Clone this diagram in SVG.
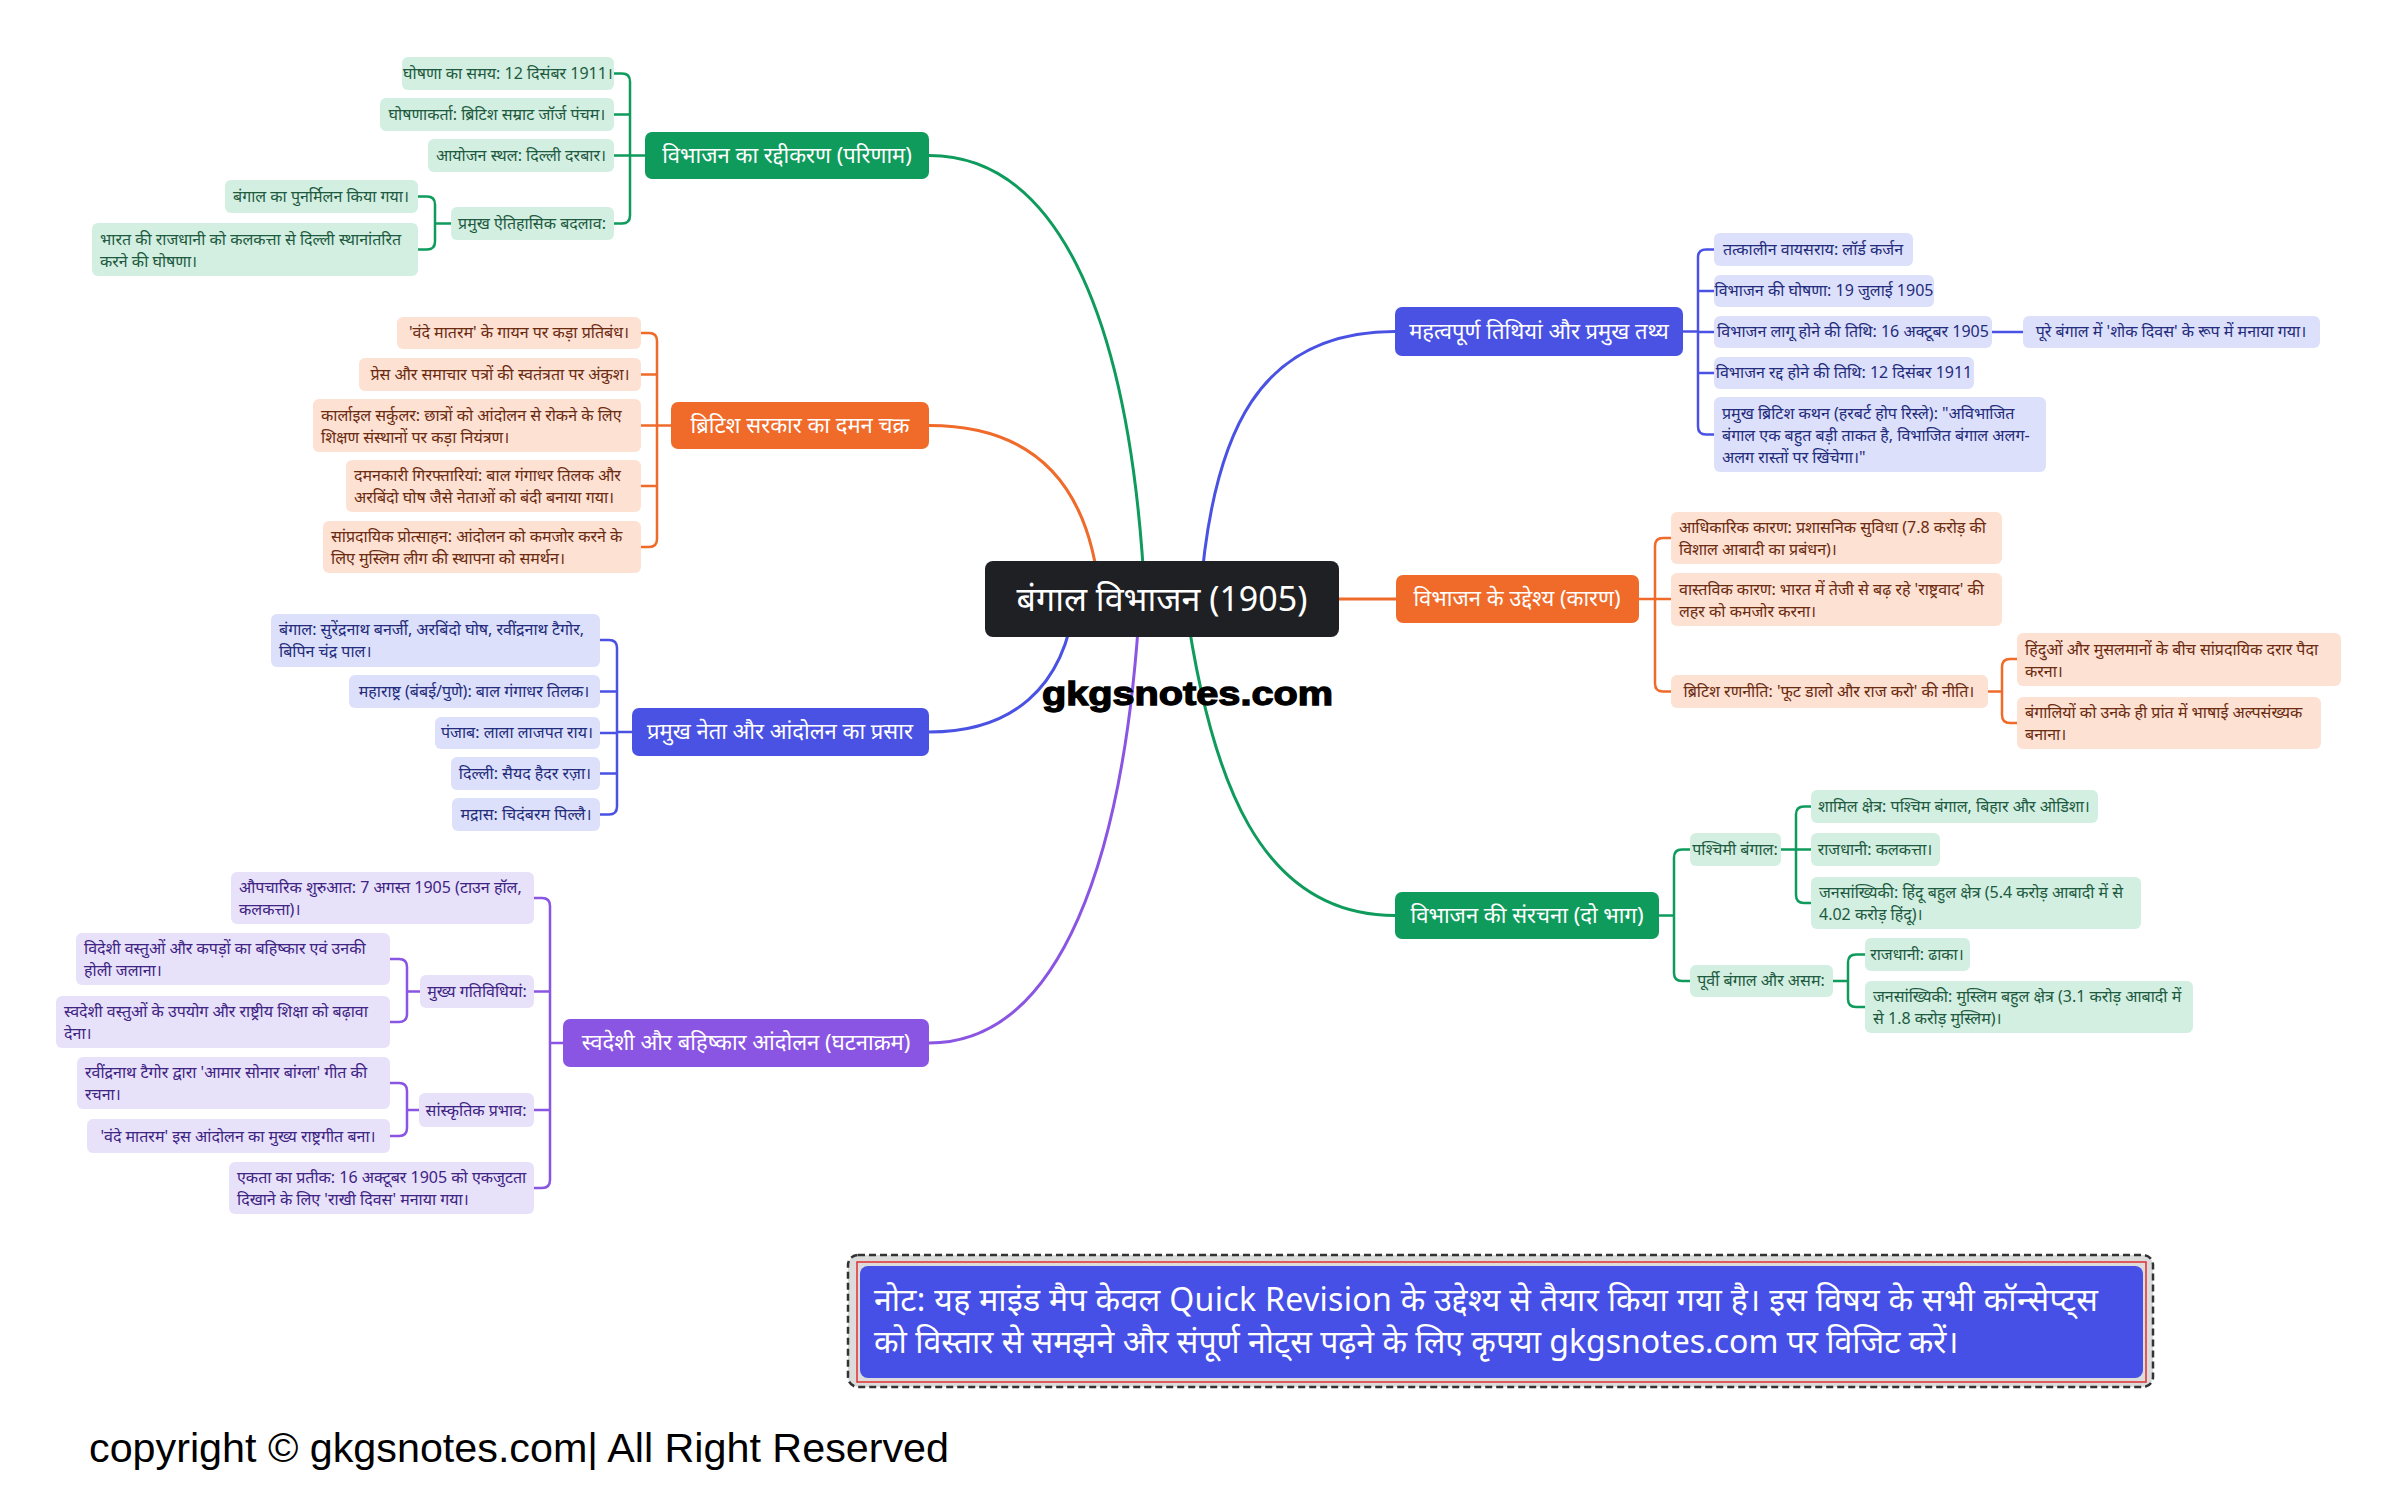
<svg xmlns="http://www.w3.org/2000/svg" width="2400" height="1499" viewBox="0 0 2400 1499">
<style>
.t,.mn text,.lf text{font-family:"Noto Sans","Noto Sans Devanagari",sans-serif}
.mn text{fill:#fff;font-size:22px;text-anchor:middle}
.lf text{font-size:16px}
.lf .c{text-anchor:middle}
.g .lf rect{fill:#d2efe1}.g .lf text{fill:#1e5a3f}.g .mn rect{fill:#0f9b5c}
.o .lf rect{fill:#fde1d3}.o .lf text{fill:#6b2b10}.o .mn rect{fill:#f06a2a}
.b .lf rect{fill:#dde0fa}.b .lf text{fill:#232c7c}.b .mn rect{fill:#4a52e3}
.p .lf rect{fill:#e8e1fa}.p .lf text{fill:#3e2483}.p .mn rect{fill:#8a55e2}
.cn path{fill:none;stroke-linecap:round}
.main{stroke-width:3}
.br{stroke-width:2.5}
.lat{font-family:"Liberation Sans",Arial,sans-serif}
</style>
<rect width="2400" height="1499" fill="#fff"/>

<g id="connectors" class="cn">
  <path class="main" stroke="#0f9b5c" d="M929,155.5 C1050,155.5 1130,300 1145,599"/>
  <path class="main" stroke="#f06a2a" d="M929,425.5 C1030,425.5 1090,480 1100,599"/>
  <path class="main" stroke="#4a52e3" d="M929,732 C1010,732 1065,690 1075,599"/>
  <path class="main" stroke="#8a55e2" d="M929,1043 C1060,1043 1125,860 1140,599"/>
  <path class="main" stroke="#4a52e3" d="M1395,331.5 C1260,331.5 1212,430 1200,599"/>
  <path class="main" stroke="#f06a2a" d="M1339,599 H1396"/>
  <path class="main" stroke="#0f9b5c" d="M1395,915.5 C1260,915.5 1210,780 1185,599"/>

  <path class="br" stroke="#0f9b5c" d="M645,155.5 H630 M614,73.5 H622 Q630,73.5 630,81.5 V215.5 Q630,223.5 622,223.5 H614 M614,114.5 H630 M614,155.5 H630"/>
  <path class="br" stroke="#0f9b5c" d="M451,223.5 H435 M418,196.5 H427 Q435,196.5 435,204.5 V241.5 Q435,249.5 427,249.5 H418"/>
  <path class="br" stroke="#f06a2a" d="M671,425.5 H657 M641,333 H649 Q657,333 657,341 V539 Q657,547 649,547 H641 M641,374.5 H657 M641,425.5 H657 M641,486 H657"/>
  <path class="br" stroke="#4a52e3" d="M632,732 H617 M600,640 H609 Q617,640 617,648 V806.5 Q617,814.5 609,814.5 H600 M600,691.5 H617 M600,733 H617 M600,773.5 H617"/>
  <path class="br" stroke="#8a55e2" d="M563,1043 H550 M534,898 H542 Q550,898 550,906 V1180 Q550,1188 542,1188 H534 M534,991.5 H550 M534,1110 H550"/>
  <path class="br" stroke="#8a55e2" d="M420,991.5 H407 M390,959 H399 Q407,959 407,967 V1014 Q407,1022 399,1022 H390"/>
  <path class="br" stroke="#8a55e2" d="M419,1110 H407 M390,1083 H399 Q407,1083 407,1091 V1128 Q407,1136 399,1136 H390"/>
  <path class="br" stroke="#4a52e3" d="M1683,331.5 H1698 M1714,249.5 H1706 Q1698,249.5 1698,257.5 V426.5 Q1698,434.5 1706,434.5 H1714 M1714,291 H1698 M1714,332 H1698 M1714,373 H1698"/>
  <path class="br" stroke="#4a52e3" d="M1992,332 H2023"/>
  <path class="br" stroke="#f06a2a" d="M1639,599 H1655 M1671,538 H1663 Q1655,538 1655,546 V683.5 Q1655,691.5 1663,691.5 H1671 M1671,599 H1655"/>
  <path class="br" stroke="#f06a2a" d="M1988,691.5 H2002 M2017,659 H2010 Q2002,659 2002,667 V715 Q2002,723 2010,723 H2017"/>
  <path class="br" stroke="#0f9b5c" d="M1659,915.5 H1674 M1690,849.5 H1682 Q1674,849.5 1674,857.5 V973 Q1674,981 1682,981 H1690"/>
  <path class="br" stroke="#0f9b5c" d="M1781,849.5 H1796 M1811,806.5 H1804 Q1796,806.5 1796,814.5 V895 Q1796,903 1804,903 H1811 M1811,849.5 H1796"/>
  <path class="br" stroke="#0f9b5c" d="M1833,981 H1848 M1865,954.5 H1856 Q1848,954.5 1848,962.5 V999 Q1848,1007 1856,1007 H1865"/>
</g>

<g id="root">
  <rect x="985" y="561" width="354" height="76" rx="8" fill="#1f2023"/>
  <text class="t" x="1162" y="611" font-size="34" fill="#fff" text-anchor="middle">बंगाल विभाजन (1905)</text>
</g>

<!-- Green left -->
<g class="g">
  <g id="g1" class="mn"><rect x="645" y="132" width="284" height="47" rx="7"/><text x="787" y="163">विभाजन का रद्दीकरण (परिणाम)</text></g>
  <g id="g1a" class="lf"><rect x="402" y="57" width="212" height="33" rx="6"/><text class="c" x="508" y="79">घोषणा का समय: 12 दिसंबर 1911।</text></g>
  <g id="g1b" class="lf"><rect x="380" y="98" width="234" height="33" rx="6"/><text class="c" x="497" y="120">घोषणाकर्ता: ब्रिटिश सम्राट जॉर्ज पंचम।</text></g>
  <g id="g1c" class="lf"><rect x="428" y="139" width="186" height="33" rx="6"/><text class="c" x="521" y="161">आयोजन स्थल: दिल्ली दरबार।</text></g>
  <g id="g1d" class="lf"><rect x="451" y="207" width="163" height="33" rx="6"/><text class="c" x="532" y="229">प्रमुख ऐतिहासिक बदलाव:</text></g>
  <g id="g1d1" class="lf"><rect x="225" y="180" width="193" height="33" rx="6"/><text class="c" x="321" y="202">बंगाल का पुनर्मिलन किया गया।</text></g>
  <g id="g1d2" class="lf"><rect x="92" y="223" width="326" height="53" rx="6"/><text x="100" y="245">भारत की राजधानी को कलकत्ता से दिल्ली स्थानांतरित</text><text x="100" y="267">करने की घोषणा।</text></g>
</g>

<!-- Orange left -->
<g class="o">
  <g id="o1" class="mn"><rect x="671" y="402" width="258" height="47" rx="7"/><text x="800" y="433">ब्रिटिश सरकार का दमन चक्र</text></g>
  <g id="o1a" class="lf"><rect x="397" y="317" width="244" height="32" rx="6"/><text class="c" x="519" y="338">'वंदे मातरम' के गायन पर कड़ा प्रतिबंध।</text></g>
  <g id="o1b" class="lf"><rect x="359" y="358" width="282" height="33" rx="6"/><text class="c" x="500" y="380">प्रेस और समाचार पत्रों की स्वतंत्रता पर अंकुश।</text></g>
  <g id="o1c" class="lf"><rect x="313" y="399" width="328" height="53" rx="6"/><text x="321" y="421">कार्लाइल सर्कुलर: छात्रों को आंदोलन से रोकने के लिए</text><text x="321" y="443">शिक्षण संस्थानों पर कड़ा नियंत्रण।</text></g>
  <g id="o1d" class="lf"><rect x="346" y="460" width="295" height="52" rx="6"/><text x="354" y="481">दमनकारी गिरफ्तारियां: बाल गंगाधर तिलक और</text><text x="354" y="503">अरबिंदो घोष जैसे नेताओं को बंदी बनाया गया।</text></g>
  <g id="o1e" class="lf"><rect x="323" y="521" width="318" height="52" rx="6"/><text x="331" y="542">सांप्रदायिक प्रोत्साहन: आंदोलन को कमजोर करने के</text><text x="331" y="564">लिए मुस्लिम लीग की स्थापना को समर्थन।</text></g>
</g>

<!-- Blue left -->
<g class="b">
  <g id="b1" class="mn"><rect x="632" y="708" width="297" height="48" rx="7"/><text x="780" y="739">प्रमुख नेता और आंदोलन का प्रसार</text></g>
  <g id="b1a" class="lf"><rect x="271" y="614" width="329" height="53" rx="6"/><text x="279" y="635">बंगाल: सुरेंद्रनाथ बनर्जी, अरबिंदो घोष, रवींद्रनाथ टैगोर,</text><text x="279" y="657">बिपिन चंद्र पाल।</text></g>
  <g id="b1b" class="lf"><rect x="349" y="675" width="251" height="33" rx="6"/><text class="c" x="474" y="697">महाराष्ट्र (बंबई/पुणे): बाल गंगाधर तिलक।</text></g>
  <g id="b1c" class="lf"><rect x="435" y="717" width="165" height="32" rx="6"/><text class="c" x="517" y="738">पंजाब: लाला लाजपत राय।</text></g>
  <g id="b1d" class="lf"><rect x="451" y="757" width="149" height="33" rx="6"/><text class="c" x="525" y="779">दिल्ली: सैयद हैदर रज़ा।</text></g>
  <g id="b1e" class="lf"><rect x="452" y="798" width="148" height="33" rx="6"/><text class="c" x="526" y="820">मद्रास: चिदंबरम पिल्लै।</text></g>
</g>

<!-- Purple -->
<g class="p">
  <g id="p1" class="mn"><rect x="563" y="1019" width="366" height="48" rx="7"/><text x="746" y="1050">स्वदेशी और बहिष्कार आंदोलन (घटनाक्रम)</text></g>
  <g id="p1a" class="lf"><rect x="231" y="872" width="303" height="52" rx="6"/><text x="239" y="893">औपचारिक शुरुआत: 7 अगस्त 1905 (टाउन हॉल,</text><text x="239" y="915">कलकत्ता)।</text></g>
  <g id="p1b" class="lf"><rect x="420" y="975" width="114" height="33" rx="6"/><text class="c" x="477" y="997">मुख्य गतिविधियां:</text></g>
  <g id="p1b1" class="lf"><rect x="76" y="933" width="314" height="52" rx="6"/><text x="84" y="954">विदेशी वस्तुओं और कपड़ों का बहिष्कार एवं उनकी</text><text x="84" y="976">होली जलाना।</text></g>
  <g id="p1b2" class="lf"><rect x="56" y="996" width="334" height="52" rx="6"/><text x="64" y="1017">स्वदेशी वस्तुओं के उपयोग और राष्ट्रीय शिक्षा को बढ़ावा</text><text x="64" y="1039">देना।</text></g>
  <g id="p1c" class="lf"><rect x="419" y="1093" width="115" height="34" rx="6"/><text class="c" x="476" y="1116">सांस्कृतिक प्रभाव:</text></g>
  <g id="p1c1" class="lf"><rect x="77" y="1057" width="313" height="52" rx="6"/><text x="85" y="1078">रवींद्रनाथ टैगोर द्वारा 'आमार सोनार बांग्ला' गीत की</text><text x="85" y="1100">रचना।</text></g>
  <g id="p1c2" class="lf"><rect x="87" y="1119" width="303" height="34" rx="6"/><text class="c" x="238" y="1142">'वंदे मातरम' इस आंदोलन का मुख्य राष्ट्रगीत बना।</text></g>
  <g id="p1d" class="lf"><rect x="229" y="1162" width="305" height="52" rx="6"/><text x="237" y="1183">एकता का प्रतीक: 16 अक्टूबर 1905 को एकजुटता</text><text x="237" y="1205">दिखाने के लिए 'राखी दिवस' मनाया गया।</text></g>
</g>

<!-- Blue right -->
<g class="b">
  <g id="b2" class="mn"><rect x="1395" y="307" width="288" height="49" rx="7"/><text x="1539" y="339">महत्वपूर्ण तिथियां और प्रमुख तथ्य</text></g>
  <g id="b2a" class="lf"><rect x="1714" y="233" width="199" height="33" rx="6"/><text class="c" x="1813" y="255">तत्कालीन वायसराय: लॉर्ड कर्जन</text></g>
  <g id="b2b" class="lf"><rect x="1714" y="275" width="220" height="32" rx="6"/><text class="c" x="1824" y="296">विभाजन की घोषणा: 19 जुलाई 1905</text></g>
  <g id="b2c" class="lf"><rect x="1714" y="316" width="278" height="32" rx="6"/><text class="c" x="1853" y="337">विभाजन लागू होने की तिथि: 16 अक्टूबर 1905</text></g>
  <g id="b2c1" class="lf"><rect x="2023" y="316" width="297" height="32" rx="6"/><text class="c" x="2171" y="337">पूरे बंगाल में 'शोक दिवस' के रूप में मनाया गया।</text></g>
  <g id="b2d" class="lf"><rect x="1714" y="357" width="260" height="32" rx="6"/><text class="c" x="1844" y="378">विभाजन रद्द होने की तिथि: 12 दिसंबर 1911</text></g>
  <g id="b2e" class="lf"><rect x="1714" y="397" width="332" height="75" rx="6"/><text x="1722" y="419">प्रमुख ब्रिटिश कथन (हरबर्ट होप रिस्ले): "अविभाजित</text><text x="1722" y="441">बंगाल एक बहुत बड़ी ताकत है, विभाजित बंगाल अलग-</text><text x="1722" y="463">अलग रास्तों पर खिंचेगा।"</text></g>
</g>

<!-- Orange right -->
<g class="o">
  <g id="o2" class="mn"><rect x="1396" y="575" width="243" height="48" rx="7"/><text x="1517" y="606">विभाजन के उद्देश्य (कारण)</text></g>
  <g id="o2a" class="lf"><rect x="1671" y="512" width="331" height="52" rx="6"/><text x="1679" y="533">आधिकारिक कारण: प्रशासनिक सुविधा (7.8 करोड़ की</text><text x="1679" y="555">विशाल आबादी का प्रबंधन)।</text></g>
  <g id="o2b" class="lf"><rect x="1671" y="573" width="331" height="53" rx="6"/><text x="1679" y="595">वास्तविक कारण: भारत में तेजी से बढ़ रहे 'राष्ट्रवाद' की</text><text x="1679" y="617">लहर को कमजोर करना।</text></g>
  <g id="o2c" class="lf"><rect x="1671" y="675" width="317" height="33" rx="6"/><text class="c" x="1829" y="697">ब्रिटिश रणनीति: 'फूट डालो और राज करो' की नीति।</text></g>
  <g id="o2c1" class="lf"><rect x="2017" y="633" width="324" height="53" rx="6"/><text x="2025" y="655">हिंदुओं और मुसलमानों के बीच सांप्रदायिक दरार पैदा</text><text x="2025" y="677">करना।</text></g>
  <g id="o2c2" class="lf"><rect x="2017" y="697" width="304" height="52" rx="6"/><text x="2025" y="718">बंगालियों को उनके ही प्रांत में भाषाई अल्पसंख्यक</text><text x="2025" y="740">बनाना।</text></g>
</g>

<!-- Green right -->
<g class="g">
  <g id="g2" class="mn"><rect x="1395" y="892" width="264" height="47" rx="7"/><text x="1527" y="923">विभाजन की संरचना (दो भाग)</text></g>
  <g id="g2a" class="lf"><rect x="1690" y="833" width="91" height="33" rx="6"/><text class="c" x="1735" y="855">पश्चिमी बंगाल:</text></g>
  <g id="g2a1" class="lf"><rect x="1811" y="790" width="287" height="33" rx="6"/><text class="c" x="1954" y="812">शामिल क्षेत्र: पश्चिम बंगाल, बिहार और ओडिशा।</text></g>
  <g id="g2a2" class="lf"><rect x="1811" y="833" width="129" height="33" rx="6"/><text class="c" x="1875" y="855">राजधानी: कलकत्ता।</text></g>
  <g id="g2a3" class="lf"><rect x="1811" y="877" width="330" height="52" rx="6"/><text x="1819" y="898">जनसांख्यिकी: हिंदू बहुल क्षेत्र (5.4 करोड़ आबादी में से</text><text x="1819" y="920">4.02 करोड़ हिंदू)।</text></g>
  <g id="g2b" class="lf"><rect x="1690" y="965" width="143" height="32" rx="6"/><text class="c" x="1761" y="986">पूर्वी बंगाल और असम:</text></g>
  <g id="g2b1" class="lf"><rect x="1865" y="938" width="105" height="33" rx="6"/><text class="c" x="1917" y="960">राजधानी: ढाका।</text></g>
  <g id="g2b2" class="lf"><rect x="1865" y="981" width="328" height="52" rx="6"/><text x="1873" y="1002">जनसांख्यिकी: मुस्लिम बहुल क्षेत्र (3.1 करोड़ आबादी में</text><text x="1873" y="1024">से 1.8 करोड़ मुस्लिम)।</text></g>
</g>

<g id="watermark">
  <text class="lat" x="1042" y="705" font-weight="bold" font-size="33" fill="#000" stroke="#000" stroke-width="1.3" textLength="291" lengthAdjust="spacingAndGlyphs">gkgsnotes.com</text>
</g>

<g id="note">
  <rect x="848" y="1255" width="1305" height="132" rx="10" fill="#dcdcdc" stroke="#333" stroke-width="2.5" stroke-dasharray="7 4"/>
  <rect x="857" y="1262" width="1289" height="120" fill="none" stroke="#e03030" stroke-width="1.5"/>
  <rect x="860" y="1266" width="1283" height="112" rx="8" fill="#4650e6"/>
  <text class="t" font-size="32" fill="#fff"><tspan x="874" y="1311" textLength="1224" lengthAdjust="spacing">नोट: यह माइंड मैप केवल Quick Revision के उद्देश्य से तैयार किया गया है। इस विषय के सभी कॉन्सेप्ट्स</tspan><tspan x="874" y="1353">को विस्तार से समझने और संपूर्ण नोट्स पढ़ने के लिए कृपया gkgsnotes.com पर विजिट करें।</tspan></text>
</g>

<g id="copyright">
  <text class="lat" x="89" y="1462" font-size="41" fill="#000" textLength="860" lengthAdjust="spacingAndGlyphs">copyright © gkgsnotes.com| All Right Reserved</text>
</g>
</svg>
